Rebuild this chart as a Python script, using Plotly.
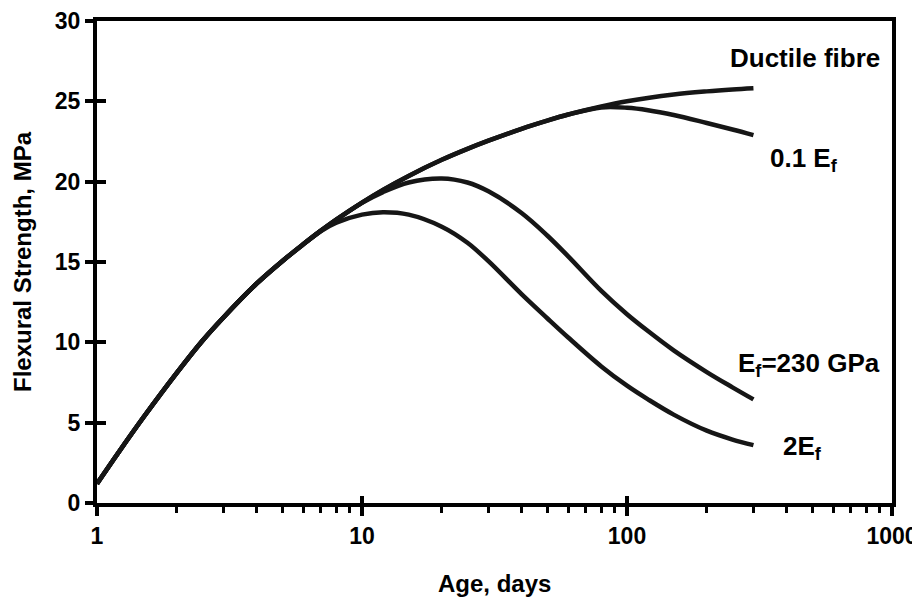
import math
import plotly.graph_objects as go

# ---- data ----
age_ductile = [1, 1.2, 1.5, 2, 2.5, 3, 4, 5, 6, 7, 8, 10, 12, 15, 20, 25, 30, 40, 50, 60, 80, 100, 150, 200, 250, 300]
str_ductile = [1.2, 3.1, 5.35, 8.1, 10.1, 11.55, 13.65, 15.05, 16.1, 16.95, 17.64, 18.7, 19.49, 20.36, 21.36, 22.04, 22.55, 23.29, 23.8, 24.18, 24.68, 25.0, 25.42, 25.62, 25.74, 25.82]

age_01ef = [1, 1.2, 1.5, 2, 2.5, 3, 4, 5, 6, 7, 8, 10, 12, 15, 20, 25, 30, 40, 50, 60, 80, 100, 120, 150, 200, 250, 300]
str_01ef = [1.2, 3.1, 5.35, 8.1, 10.1, 11.55, 13.65, 15.05, 16.1, 16.95, 17.64, 18.7, 19.49, 20.36, 21.36, 22.04, 22.55, 23.29, 23.8, 24.18, 24.62, 24.6, 24.45, 24.15, 23.65, 23.25, 22.9]

age_ef = [1, 1.2, 1.5, 2, 2.5, 3, 4, 5, 6, 7, 8, 10, 12, 15, 20, 25, 30, 40, 50, 60, 80, 100, 120, 150, 200, 250, 300]
str_ef = [1.2, 3.1, 5.35, 8.1, 10.1, 11.55, 13.65, 15.05, 16.1, 16.95, 17.64, 18.68, 19.35, 19.95, 20.2, 19.95, 19.4, 18.05, 16.65, 15.35, 13.2, 11.75, 10.7, 9.5, 8.15, 7.2, 6.45]

age_2ef = [1, 1.2, 1.5, 2, 2.5, 3, 4, 5, 6, 7, 8, 10, 12, 15, 20, 25, 30, 40, 50, 60, 80, 100, 120, 150, 200, 250, 300]
str_2ef = [1.2, 3.1, 5.35, 8.1, 10.1, 11.55, 13.65, 15.05, 16.1, 16.93, 17.45, 17.95, 18.1, 17.95, 17.2, 16.2, 15.05, 13.0, 11.5, 10.3, 8.5, 7.3, 6.45, 5.5, 4.5, 3.95, 3.6]

y_ticks = [0, 5, 10, 15, 20, 25, 30]
x_ticks = [1, 10, 100, 1000]
x_tick_labels = ["1", "10", "100", "1000"]

labels = ["Ductile fibre", "0.1 E<sub>f</sub>", "E<sub>f</sub>=230 GPa", "2E<sub>f</sub>"]
label_x = [916, 466, 915, 461]
label_y = [27.72, 21.35, 8.65, 3.45]
label_anchor = ["right", "center", "right", "center"]

FONT = "Arial, Liberation Sans, Helvetica, sans-serif"
LINE = "#161616"

fig = go.Figure()
for ax, sy in [(age_ductile, str_ductile), (age_01ef, str_01ef), (age_ef, str_ef), (age_2ef, str_2ef)]:
    fig.add_trace(go.Scatter(x=ax, y=sy, mode="lines",
                             line=dict(color=LINE, width=4.5, shape="spline", smoothing=1.0),
                             showlegend=False, hoverinfo="skip"))

# invisible trace to activate the overlay axes used for the inner halves of the major ticks
fig.add_trace(go.Scatter(x=[None], y=[None], xaxis="x2", yaxis="y2", showlegend=False, hoverinfo="skip"))

for t, xv, yv, xa in zip(labels, label_x, label_y, label_anchor):
    fig.add_annotation(x=math.log10(xv), y=yv, text=t, showarrow=False,
                       xanchor=xa, yanchor="middle",
                       font=dict(family=FONT, size=26, color="black", weight="bold"))

# axis titles
fig.add_annotation(xref="paper", yref="paper", x=0.5, y=-0.166, yanchor="middle", xanchor="center",
                   text="Age, days", showarrow=False,
                   font=dict(family=FONT, size=24, color="black", weight="bold"))
fig.add_annotation(xref="paper", yref="paper", x=-0.0943, y=0.5, xanchor="center", yanchor="middle",
                   text="Flexural Strength, MPa", textangle=-90, showarrow=False,
                   font=dict(family=FONT, size=24, color="black", weight="bold"))

# page body has an 8px margin, so the figure is 912x595 to fill the 920x603 window
fig.update_layout(
    width=912, height=595,
    margin=dict(l=89, r=28, t=13, b=100, autoexpand=False),
    paper_bgcolor="white", plot_bgcolor="white",
    font=dict(family=FONT, color="black", weight="bold"),
    xaxis=dict(type="log", range=[0, 3], tickvals=x_ticks, ticktext=x_tick_labels,
               ticks="outside", ticklen=9, tickwidth=4, tickcolor="black",
               showline=True, linewidth=4, linecolor="black", mirror=True,
               showgrid=False, zeroline=False, automargin=False,
               tickfont=dict(family=FONT, size=23, color="black", weight="bold"),
               minor=dict(dtick="D1", ticks="outside", ticklen=6, tickwidth=3, tickcolor="black", showgrid=False)),
    yaxis=dict(range=[0, 30], tickvals=y_ticks,
               ticks="outside", ticklen=8, tickwidth=4, tickcolor="black",
               showline=True, linewidth=4, linecolor="black", mirror=True,
               showgrid=False, zeroline=False, automargin=False,
               tickfont=dict(family=FONT, size=23, color="black", weight="bold")),
    xaxis2=dict(type="log", range=[0, 3], overlaying="x", anchor="y2", tickvals=x_ticks,
                ticks="inside", ticklen=7, tickwidth=4, tickcolor="black", automargin=False,
                showticklabels=False, showgrid=False, zeroline=False, showline=False, side="bottom"),
    yaxis2=dict(range=[0, 30], overlaying="y", anchor="x2", tickvals=y_ticks,
                ticks="inside", ticklen=9, tickwidth=4, tickcolor="black", automargin=False,
                showticklabels=False, showgrid=False, zeroline=False, showline=False, side="left"),
)

fig.write_html("out.html")
